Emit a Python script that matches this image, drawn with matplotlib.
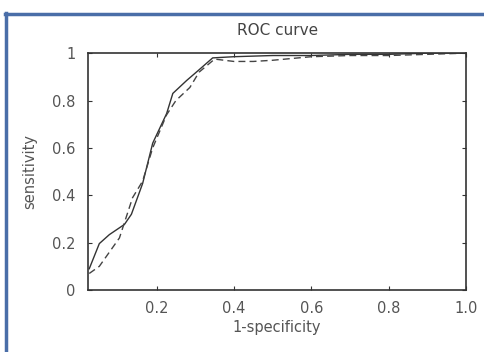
import numpy as np
import matplotlib.pyplot as plt
from matplotlib.lines import Line2D

# ROC points
fpr_solid = [0.026, 0.052, 0.078, 0.117, 0.135, 0.164, 0.19, 0.226, 0.242, 0.278, 0.31, 0.345, 0.4, 0.5, 0.6, 0.7, 0.8, 0.9, 1.0]
tpr_solid = [0.09, 0.196, 0.234, 0.277, 0.32, 0.45, 0.62, 0.745, 0.83, 0.885, 0.93, 0.98, 0.985, 0.99, 0.99, 0.995, 0.995, 1.0, 1.0]

fpr_dash = [0.026, 0.052, 0.104, 0.138, 0.164, 0.19, 0.226, 0.25, 0.286, 0.31, 0.35, 0.4, 0.45, 0.5, 0.6, 0.7, 0.8, 0.9, 1.0]
tpr_dash = [0.07, 0.1, 0.22, 0.39, 0.46, 0.6, 0.74, 0.8, 0.855, 0.92, 0.975, 0.965, 0.965, 0.97, 0.985, 0.99, 0.99, 0.995, 1.0]

xticks = [0.2, 0.4, 0.6, 0.8, 1.0]
xlabels = ['0.2', '0.4', '0.6', '0.8', '1.0']
yticks = [0, 0.2, 0.4, 0.6, 0.8, 1]
ylabels = ['0', '0.2', '0.4', '0.6', '0.8', '1']

fig = plt.figure(figsize=(4.84, 3.52), dpi=100)
ax = fig.add_axes([0.182, 0.176, 0.781, 0.673])

ax.plot(fpr_solid, tpr_solid, color='#333333', lw=1.0)
ax.plot(fpr_dash, tpr_dash, color='#444444', lw=1.0, ls=(0, (5, 3)))

ax.set_xlim(0.023, 1.0)
ax.set_ylim(0, 1)
ax.set_xticks(xticks)
ax.set_xticklabels(xlabels)
ax.set_yticks(yticks)
ax.set_yticklabels(ylabels)
ax.tick_params(direction='in', top=True, right=True, length=3, labelsize=10.5,
               colors='#333333', labelcolor='#555555')
ax.tick_params(axis='x', pad=8)
ax.tick_params(axis='y', pad=9)
for s in ax.spines.values():
    s.set_color('#333333')
    s.set_linewidth(1.2)

ax.set_title('ROC curve', fontsize=11, color='#444444', pad=13)
ax.set_xlabel('1-specificity', fontsize=10.5, color='#555555', labelpad=3)
ax.set_ylabel('sensitivity', fontsize=10.5, color='#555555', labelpad=11)

# blue frame on the left and top edges
fig.add_artist(Line2D([6 / 484, 6 / 484], [0, 1 - 13 / 352], transform=fig.transFigure, color='#4a6ea8', lw=2.5))
fig.add_artist(Line2D([5 / 484, 1], [1 - 14 / 352, 1 - 14 / 352], transform=fig.transFigure, color='#4a6ea8', lw=2.5))

fig.savefig('out.png', dpi=100)
